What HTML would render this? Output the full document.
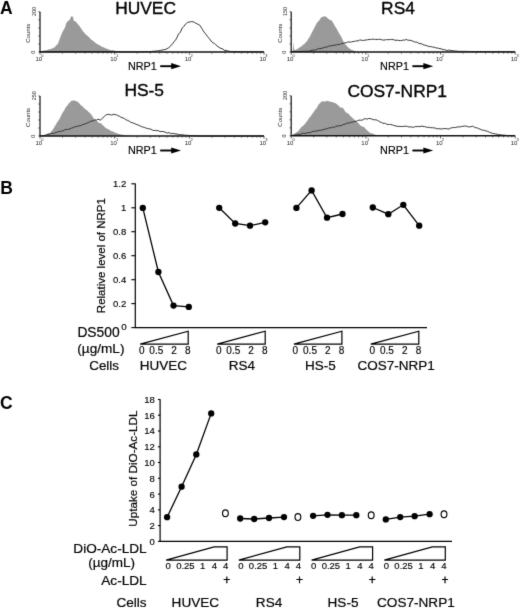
<!DOCTYPE html>
<html><head><meta charset="utf-8"><style>
html,body{margin:0;padding:0;background:#fff;width:520px;height:609px;overflow:hidden}
svg{display:block}
text{font-family:"Liberation Sans", sans-serif}
</style></head><body>
<svg width="520" height="609" viewBox="0 0 520 609">
<defs><filter id="bl" color-interpolation-filters="sRGB" x="0" y="0" width="100%" height="100%"><feConvolveMatrix order="3" kernelMatrix="0.0100 0.0800 0.0100 0.0800 0.6400 0.0800 0.0100 0.0800 0.0100" edgeMode="duplicate"/></filter></defs>
<g filter="url(#bl)">
<rect width="520" height="609" fill="#fff"/>
<polygon points="40.0,52.0 41.1,51.3 42.1,51.0 43.1,50.7 44.2,50.3 45.2,50.5 46.2,50.2 47.2,50.1 48.2,49.5 49.3,49.2 50.3,49.2 51.3,48.7 52.4,48.4 53.4,47.7 54.4,47.4 55.5,46.3 56.5,45.1 57.5,44.4 58.5,42.3 59.6,39.2 60.9,35.8 62.2,32.5 63.6,30.0 65.0,27.4 66.2,23.3 67.7,21.3 69.6,20.1 70.8,17.2 71.9,15.9 73.1,17.3 73.8,20.8 74.8,21.2 75.8,21.6 77.7,24.1 79.6,26.2 81.5,29.1 82.7,30.9 83.8,32.2 85.0,33.4 86.2,34.9 87.3,35.4 88.5,36.8 89.8,37.9 91.0,39.5 92.3,40.3 93.6,41.2 94.9,42.4 96.1,43.2 97.2,43.9 98.3,44.7 99.5,45.0 100.7,45.9 101.8,46.8 103.0,47.1 104.2,47.8 105.3,48.0 106.5,48.7 107.7,48.9 108.8,49.5 110.0,49.9 111.1,50.2 112.2,50.0 113.4,50.4 114.4,50.4 115.5,50.9 116.5,51.1 117.6,51.3 118.7,51.5 119.8,51.6 120.9,51.8 122.0,52.0" fill="#9a9a9a"/>
<polyline points="40.0,51.8 41.3,51.8 42.6,51.8 43.9,51.8 45.3,51.8 46.6,51.8 47.9,51.8 49.2,51.8 50.5,51.8 51.8,51.8 53.2,51.8 54.5,51.8 55.8,51.8 57.1,51.8 58.4,51.8 59.7,51.8 61.1,51.8 62.4,51.8 63.7,51.8 65.0,51.8 66.3,51.8 67.6,51.8 68.9,51.8 70.3,51.8 71.6,51.8 72.9,51.8 74.2,51.8 75.5,51.8 76.8,51.8 78.2,51.8 79.5,51.8 80.8,51.8 82.1,51.8 83.4,51.8 84.7,51.8 86.1,51.8 87.4,51.8 88.7,51.8 90.0,51.8 91.3,51.8 92.6,51.8 93.9,51.8 95.3,51.8 96.6,51.8 97.9,51.8 99.2,51.8 100.5,51.8 101.8,51.8 103.2,51.8 104.5,51.8 105.8,51.8 107.1,51.8 108.4,51.8 109.7,51.8 111.1,51.8 112.4,51.8 113.7,51.8 115.0,51.8 116.3,51.8 117.6,51.8 118.9,51.8 120.3,51.8 121.6,51.8 122.9,51.8 124.2,51.8 125.5,51.8 126.8,51.8 128.2,51.8 129.5,51.8 130.8,51.8 132.1,51.8 133.4,51.8 134.7,51.8 136.1,51.8 137.4,51.8 138.7,51.8 140.0,51.8 141.4,51.8 142.9,51.7 144.3,51.7 145.8,51.6 147.2,51.6 148.6,51.6 150.1,51.5 151.5,51.5 153.0,51.3 154.6,51.2 156.1,51.0 157.7,50.9 159.2,50.6 160.6,50.4 162.1,50.1 163.6,49.7 165.0,49.6 166.9,48.8 168.8,47.6 170.8,45.8 172.7,43.7 174.1,41.6 175.6,40.0 177.1,37.3 178.5,34.1 180.4,32.1 182.3,27.8 183.8,26.6 185.2,24.4 186.6,23.5 188.0,22.1 189.8,22.0 191.5,21.6 192.9,21.7 194.4,22.4 195.8,23.2 197.7,24.2 199.6,25.1 201.1,27.2 202.5,29.6 203.9,31.9 205.4,33.6 207.3,36.3 209.2,38.4 211.1,41.1 213.0,42.8 214.3,43.5 215.7,44.6 217.0,45.8 218.9,47.3 220.8,48.4 222.7,48.9 224.6,50.4 226.1,50.4 227.5,50.9 228.9,51.2 230.4,51.5 231.8,51.5 233.1,51.6 234.5,51.6 235.9,51.7 237.3,51.7 238.6,51.8 240.0,51.8 241.3,51.8 242.7,51.8 244.0,51.8 245.3,51.8 246.7,51.8 248.0,51.8 249.3,51.8 250.7,51.8 252.0,51.8 253.3,51.8 254.7,51.8 256.0,51.8 257.3,51.8 258.7,51.8 260.0,51.8 261.3,51.8 262.7,51.8 264.0,51.8" fill="none" stroke="#333" stroke-width="1.0" stroke-linejoin="round"/>
<line x1="40" y1="11.8" x2="40" y2="52" stroke="#222" stroke-width="1.3"/>
<line x1="39.4" y1="52" x2="264.01" y2="52" stroke="#111" stroke-width="1.6"/>
<line x1="38.4" y1="11.8" x2="40" y2="11.8" stroke="#333" stroke-width="0.8"/>
<line x1="38.4" y1="19.8" x2="40" y2="19.8" stroke="#333" stroke-width="0.8"/>
<line x1="38.4" y1="27.9" x2="40" y2="27.9" stroke="#333" stroke-width="0.8"/>
<line x1="38.4" y1="35.9" x2="40" y2="35.9" stroke="#333" stroke-width="0.8"/>
<line x1="38.4" y1="44.0" x2="40" y2="44.0" stroke="#333" stroke-width="0.8"/>
<line x1="38.4" y1="52.0" x2="40" y2="52.0" stroke="#333" stroke-width="0.8"/>
<line x1="62.5" y1="52" x2="62.5" y2="53.6" stroke="#333" stroke-width="0.8"/>
<line x1="75.6" y1="52" x2="75.6" y2="53.6" stroke="#333" stroke-width="0.8"/>
<line x1="85.0" y1="52" x2="85.0" y2="53.6" stroke="#333" stroke-width="0.8"/>
<line x1="92.2" y1="52" x2="92.2" y2="53.6" stroke="#333" stroke-width="0.8"/>
<line x1="98.1" y1="52" x2="98.1" y2="53.6" stroke="#333" stroke-width="0.8"/>
<line x1="103.1" y1="52" x2="103.1" y2="53.6" stroke="#333" stroke-width="0.8"/>
<line x1="107.4" y1="52" x2="107.4" y2="53.6" stroke="#333" stroke-width="0.8"/>
<line x1="111.3" y1="52" x2="111.3" y2="53.6" stroke="#333" stroke-width="0.8"/>
<line x1="137.1" y1="52" x2="137.1" y2="53.6" stroke="#333" stroke-width="0.8"/>
<line x1="150.3" y1="52" x2="150.3" y2="53.6" stroke="#333" stroke-width="0.8"/>
<line x1="159.6" y1="52" x2="159.6" y2="53.6" stroke="#333" stroke-width="0.8"/>
<line x1="166.9" y1="52" x2="166.9" y2="53.6" stroke="#333" stroke-width="0.8"/>
<line x1="172.8" y1="52" x2="172.8" y2="53.6" stroke="#333" stroke-width="0.8"/>
<line x1="177.8" y1="52" x2="177.8" y2="53.6" stroke="#333" stroke-width="0.8"/>
<line x1="182.1" y1="52" x2="182.1" y2="53.6" stroke="#333" stroke-width="0.8"/>
<line x1="185.9" y1="52" x2="185.9" y2="53.6" stroke="#333" stroke-width="0.8"/>
<line x1="211.8" y1="52" x2="211.8" y2="53.6" stroke="#333" stroke-width="0.8"/>
<line x1="225.0" y1="52" x2="225.0" y2="53.6" stroke="#333" stroke-width="0.8"/>
<line x1="234.3" y1="52" x2="234.3" y2="53.6" stroke="#333" stroke-width="0.8"/>
<line x1="241.5" y1="52" x2="241.5" y2="53.6" stroke="#333" stroke-width="0.8"/>
<line x1="247.4" y1="52" x2="247.4" y2="53.6" stroke="#333" stroke-width="0.8"/>
<line x1="252.4" y1="52" x2="252.4" y2="53.6" stroke="#333" stroke-width="0.8"/>
<line x1="256.8" y1="52" x2="256.8" y2="53.6" stroke="#333" stroke-width="0.8"/>
<line x1="260.6" y1="52" x2="260.6" y2="53.6" stroke="#333" stroke-width="0.8"/>
<line x1="40.0" y1="52" x2="40.0" y2="54.6" stroke="#333" stroke-width="0.8"/>
<text x="38.8" y="61.3" font-size="6" text-anchor="middle" fill="#222">10</text>
<text x="42.3" y="57.3" font-size="4" text-anchor="middle" fill="#222">0</text>
<line x1="114.7" y1="52" x2="114.7" y2="54.6" stroke="#333" stroke-width="0.8"/>
<text x="113.5" y="61.3" font-size="6" text-anchor="middle" fill="#222">10</text>
<text x="117.0" y="57.3" font-size="4" text-anchor="middle" fill="#222">1</text>
<line x1="189.3" y1="52" x2="189.3" y2="54.6" stroke="#333" stroke-width="0.8"/>
<text x="188.1" y="61.3" font-size="6" text-anchor="middle" fill="#222">10</text>
<text x="191.6" y="57.3" font-size="4" text-anchor="middle" fill="#222">2</text>
<line x1="264.0" y1="52" x2="264.0" y2="54.6" stroke="#333" stroke-width="0.8"/>
<text x="262.8" y="61.3" font-size="6" text-anchor="middle" fill="#222">10</text>
<text x="266.3" y="57.3" font-size="4" text-anchor="middle" fill="#222">3</text>
<text transform="translate(30.4,33.3) rotate(-90)" font-size="6" text-anchor="middle" fill="#222">Counts</text>
<text transform="translate(36,11.600000000000001) rotate(-90)" font-size="5.4" text-anchor="middle" fill="#222">200</text>
<text transform="translate(34.8,52.3) rotate(-90)" font-size="5.4" text-anchor="middle" fill="#222">0</text>
<text x="145.6" y="13.9" font-size="17.4" text-anchor="middle" fill="#000" stroke="#000" stroke-width="0.35">HUVEC</text>
<text x="127.9" y="69.6" font-size="10.8" text-anchor="start" fill="#000" stroke="#000" stroke-width="0.15">NRP1</text>
<line x1="160.2" y1="66.2" x2="174.0" y2="66.2" stroke="#000" stroke-width="1.9"/>
<polygon points="171.2,63.1 181.0,66.2 171.2,69.3" fill="#000"/>
<polygon points="291.5,52.0 292.8,51.0 293.3,41.8 293.9,49.2 295.5,50.1 297.2,48.9 298.2,48.5 299.3,47.5 300.3,47.2 301.3,46.2 302.4,45.6 303.4,44.6 304.7,43.8 306.0,41.9 307.0,41.2 308.0,39.2 309.1,37.8 310.3,35.7 311.5,33.2 312.6,31.1 313.6,29.3 314.6,27.2 316.5,23.5 317.6,22.1 318.8,21.0 320.0,19.2 321.1,17.6 323.0,16.8 324.9,16.2 326.0,16.7 327.2,17.7 328.8,19.2 330.0,19.9 331.1,20.1 332.8,22.2 334.2,24.8 335.2,26.6 336.2,28.0 337.2,29.7 338.5,32.2 339.8,34.4 341.1,36.4 342.1,38.4 343.2,40.9 344.2,42.4 345.2,44.2 346.2,45.2 348.0,47.2 349.1,48.2 350.3,49.0 351.5,49.9 352.6,50.3 353.6,50.6 354.7,51.0 355.7,51.4 357.1,51.7 358.5,52.0" fill="#9a9a9a"/>
<polyline points="291.5,51.7 292.9,51.7 294.2,51.6 295.6,51.6 296.9,51.5 298.3,51.5 299.7,51.5 301.0,51.4 302.4,51.4 303.8,51.4 305.1,51.3 306.5,51.3 307.8,51.2 309.2,51.2 310.8,50.8 312.3,50.1 313.8,50.2 315.4,50.0 316.9,49.3 318.5,48.6 320.0,48.7 321.6,48.3 323.1,47.9 324.5,47.4 325.9,47.0 327.2,47.1 328.6,46.3 330.0,45.8 331.3,45.7 332.6,45.6 333.9,45.2 335.2,45.2 336.5,44.9 337.9,44.5 339.3,44.5 340.7,44.1 342.1,43.3 343.5,43.5 344.8,42.8 346.2,42.8 347.5,42.1 348.9,41.9 350.2,42.2 351.5,41.9 352.9,41.6 354.2,41.3 355.6,41.3 356.9,40.6 358.2,41.0 359.6,40.1 360.9,40.0 362.3,40.5 363.6,40.3 365.0,40.2 366.3,39.9 367.7,39.8 369.0,39.5 370.4,39.4 371.7,39.4 373.1,39.1 374.4,39.4 375.8,39.4 377.1,39.5 378.4,39.3 379.8,39.3 381.1,39.4 382.5,40.2 383.8,39.9 385.2,40.0 386.5,39.5 387.9,39.8 389.2,39.5 390.6,39.6 391.9,39.3 393.3,39.8 394.6,39.9 396.0,40.5 397.3,40.1 398.8,40.5 400.3,40.6 401.8,40.5 403.2,40.0 404.7,40.2 406.2,39.4 407.7,40.1 409.2,40.3 410.8,40.4 412.3,40.9 413.8,41.7 415.3,42.1 416.9,42.0 418.4,43.2 420.0,43.7 421.5,43.7 423.0,44.7 424.6,45.1 426.1,45.5 427.7,46.0 429.2,46.6 430.7,46.5 432.3,47.1 433.8,47.1 435.4,47.8 436.9,47.9 438.4,48.3 440.0,48.6 441.5,48.9 443.1,49.8 444.6,49.5 446.1,50.4 447.7,50.4 449.2,50.0 450.8,50.6 452.3,50.5 453.8,50.9 455.4,51.0 456.9,51.2 458.5,51.3 460.0,51.4 461.3,51.4 462.6,51.4 463.9,51.4 465.2,51.4 466.5,51.4 467.9,51.4 469.2,51.5 470.5,51.5 471.8,51.5 473.1,51.5 474.4,51.5 475.7,51.5 477.0,51.5 478.3,51.5 479.6,51.5 481.0,51.5 482.3,51.5 483.6,51.5 484.9,51.5 486.2,51.5 487.5,51.5 488.8,51.6 490.1,51.6 491.4,51.6 492.7,51.6 494.0,51.6 495.4,51.6 496.7,51.6 498.0,51.6 499.3,51.6 500.6,51.6 501.9,51.6 503.2,51.6 504.5,51.6 505.8,51.7 507.1,51.7 508.5,51.7 509.8,51.7 511.1,51.7 512.4,51.7 513.7,51.7 515.0,51.7" fill="none" stroke="#333" stroke-width="1.0" stroke-linejoin="round"/>
<line x1="291.2" y1="11.8" x2="291.2" y2="52" stroke="#222" stroke-width="1.3"/>
<line x1="290.59999999999997" y1="52" x2="515.21" y2="52" stroke="#111" stroke-width="1.6"/>
<line x1="289.59999999999997" y1="11.8" x2="291.2" y2="11.8" stroke="#333" stroke-width="0.8"/>
<line x1="289.59999999999997" y1="19.8" x2="291.2" y2="19.8" stroke="#333" stroke-width="0.8"/>
<line x1="289.59999999999997" y1="27.9" x2="291.2" y2="27.9" stroke="#333" stroke-width="0.8"/>
<line x1="289.59999999999997" y1="35.9" x2="291.2" y2="35.9" stroke="#333" stroke-width="0.8"/>
<line x1="289.59999999999997" y1="44.0" x2="291.2" y2="44.0" stroke="#333" stroke-width="0.8"/>
<line x1="289.59999999999997" y1="52.0" x2="291.2" y2="52.0" stroke="#333" stroke-width="0.8"/>
<line x1="313.7" y1="52" x2="313.7" y2="53.6" stroke="#333" stroke-width="0.8"/>
<line x1="326.8" y1="52" x2="326.8" y2="53.6" stroke="#333" stroke-width="0.8"/>
<line x1="336.2" y1="52" x2="336.2" y2="53.6" stroke="#333" stroke-width="0.8"/>
<line x1="343.4" y1="52" x2="343.4" y2="53.6" stroke="#333" stroke-width="0.8"/>
<line x1="349.3" y1="52" x2="349.3" y2="53.6" stroke="#333" stroke-width="0.8"/>
<line x1="354.3" y1="52" x2="354.3" y2="53.6" stroke="#333" stroke-width="0.8"/>
<line x1="358.6" y1="52" x2="358.6" y2="53.6" stroke="#333" stroke-width="0.8"/>
<line x1="362.5" y1="52" x2="362.5" y2="53.6" stroke="#333" stroke-width="0.8"/>
<line x1="388.3" y1="52" x2="388.3" y2="53.6" stroke="#333" stroke-width="0.8"/>
<line x1="401.5" y1="52" x2="401.5" y2="53.6" stroke="#333" stroke-width="0.8"/>
<line x1="410.8" y1="52" x2="410.8" y2="53.6" stroke="#333" stroke-width="0.8"/>
<line x1="418.1" y1="52" x2="418.1" y2="53.6" stroke="#333" stroke-width="0.8"/>
<line x1="424.0" y1="52" x2="424.0" y2="53.6" stroke="#333" stroke-width="0.8"/>
<line x1="429.0" y1="52" x2="429.0" y2="53.6" stroke="#333" stroke-width="0.8"/>
<line x1="433.3" y1="52" x2="433.3" y2="53.6" stroke="#333" stroke-width="0.8"/>
<line x1="437.1" y1="52" x2="437.1" y2="53.6" stroke="#333" stroke-width="0.8"/>
<line x1="463.0" y1="52" x2="463.0" y2="53.6" stroke="#333" stroke-width="0.8"/>
<line x1="476.2" y1="52" x2="476.2" y2="53.6" stroke="#333" stroke-width="0.8"/>
<line x1="485.5" y1="52" x2="485.5" y2="53.6" stroke="#333" stroke-width="0.8"/>
<line x1="492.7" y1="52" x2="492.7" y2="53.6" stroke="#333" stroke-width="0.8"/>
<line x1="498.6" y1="52" x2="498.6" y2="53.6" stroke="#333" stroke-width="0.8"/>
<line x1="503.6" y1="52" x2="503.6" y2="53.6" stroke="#333" stroke-width="0.8"/>
<line x1="508.0" y1="52" x2="508.0" y2="53.6" stroke="#333" stroke-width="0.8"/>
<line x1="511.8" y1="52" x2="511.8" y2="53.6" stroke="#333" stroke-width="0.8"/>
<line x1="291.2" y1="52" x2="291.2" y2="54.6" stroke="#333" stroke-width="0.8"/>
<text x="290.0" y="61.3" font-size="6" text-anchor="middle" fill="#222">10</text>
<text x="293.5" y="57.3" font-size="4" text-anchor="middle" fill="#222">0</text>
<line x1="365.9" y1="52" x2="365.9" y2="54.6" stroke="#333" stroke-width="0.8"/>
<text x="364.7" y="61.3" font-size="6" text-anchor="middle" fill="#222">10</text>
<text x="368.2" y="57.3" font-size="4" text-anchor="middle" fill="#222">1</text>
<line x1="440.5" y1="52" x2="440.5" y2="54.6" stroke="#333" stroke-width="0.8"/>
<text x="439.3" y="61.3" font-size="6" text-anchor="middle" fill="#222">10</text>
<text x="442.8" y="57.3" font-size="4" text-anchor="middle" fill="#222">2</text>
<line x1="515.2" y1="52" x2="515.2" y2="54.6" stroke="#333" stroke-width="0.8"/>
<text x="514.0" y="61.3" font-size="6" text-anchor="middle" fill="#222">10</text>
<text x="517.5" y="57.3" font-size="4" text-anchor="middle" fill="#222">3</text>
<text transform="translate(281.59999999999997,33.3) rotate(-90)" font-size="6" text-anchor="middle" fill="#222">Counts</text>
<text transform="translate(287.2,11.600000000000001) rotate(-90)" font-size="5.4" text-anchor="middle" fill="#222">150</text>
<text transform="translate(286.0,52.3) rotate(-90)" font-size="5.4" text-anchor="middle" fill="#222">0</text>
<text x="398" y="14.0" font-size="17.4" text-anchor="middle" fill="#000" stroke="#000" stroke-width="0.35">RS4</text>
<text x="380.1" y="69.6" font-size="10.8" text-anchor="start" fill="#000" stroke="#000" stroke-width="0.15">NRP1</text>
<line x1="412.4" y1="66.2" x2="426.2" y2="66.2" stroke="#000" stroke-width="1.9"/>
<polygon points="423.4,63.1 433.2,66.2 423.4,69.3" fill="#000"/>
<polygon points="40.0,136.0 41.1,135.8 42.2,135.5 43.4,135.3 44.5,135.0 45.9,134.5 47.2,134.0 48.2,133.5 49.3,132.9 50.3,133.0 51.3,131.3 52.4,130.2 53.4,128.8 54.4,127.0 55.5,125.2 56.5,123.4 57.5,121.7 58.5,120.5 59.5,118.9 60.5,117.0 61.6,114.5 62.6,112.8 63.6,111.3 64.7,109.4 65.7,107.3 66.7,106.3 67.8,104.9 68.8,103.2 69.9,102.6 71.1,100.9 72.1,100.8 73.2,100.5 74.2,100.4 76.0,100.9 77.0,101.8 78.0,101.8 79.0,103.3 80.1,104.3 81.1,105.4 82.1,105.9 83.2,107.0 84.2,108.3 85.2,109.0 86.2,110.0 87.2,110.2 88.2,111.8 89.3,112.5 90.3,113.4 91.4,114.7 92.6,116.5 93.8,118.5 94.9,119.5 95.9,120.6 97.0,120.9 98.0,122.3 99.0,122.8 100.1,123.2 101.1,123.3 102.1,124.4 103.2,125.5 104.2,126.6 105.2,127.4 106.2,128.2 107.2,128.8 108.3,129.2 109.5,130.0 110.7,130.5 111.8,131.5 112.9,131.3 113.9,132.1 115.0,132.8 116.0,133.0 117.0,133.2 118.0,133.8 119.1,134.0 120.2,134.1 121.3,134.8 122.4,134.4 123.5,135.0 124.6,135.1 125.8,135.3 126.9,135.4 128.1,135.6 129.2,135.7 130.4,135.8 131.5,135.8 132.7,135.9 133.8,135.9 135.0,136.0" fill="#9a9a9a"/>
<polyline points="40.0,136.0 41.3,135.9 42.6,135.8 44.0,135.5 45.3,135.2 46.6,134.8 48.0,134.1 49.4,134.4 50.7,133.6 52.0,133.2 53.4,133.6 54.8,132.9 56.2,132.5 57.6,132.1 59.0,131.3 60.4,131.7 61.8,130.7 63.2,130.9 64.6,129.9 66.0,129.5 67.4,129.6 68.8,129.0 70.2,128.9 71.6,128.0 73.0,127.9 74.4,126.8 75.8,126.8 77.2,126.2 78.6,126.1 80.0,125.5 81.4,125.4 82.8,124.5 84.2,124.3 85.7,123.5 87.2,123.1 88.8,122.4 90.3,121.4 91.8,121.0 93.3,120.7 94.9,119.9 96.5,120.2 98.0,119.1 100.3,120.1 102.6,118.2 104.2,116.5 105.7,115.0 107.2,114.5 108.8,114.3 110.3,114.7 111.8,115.1 113.8,114.2 115.1,114.6 116.4,115.0 117.7,115.4 119.2,116.2 120.6,117.0 122.0,117.7 123.5,118.2 124.9,118.8 126.3,120.1 127.8,120.3 129.2,121.2 130.7,122.2 132.3,122.8 133.8,123.2 135.4,124.0 136.9,124.6 138.4,125.1 140.0,125.9 141.5,126.6 143.1,127.1 144.6,127.5 146.1,128.1 147.7,128.6 149.2,128.8 150.8,129.2 152.3,130.1 153.8,130.5 155.4,130.4 156.9,130.7 158.5,130.7 160.0,131.6 161.5,131.5 163.1,131.5 164.6,132.0 166.2,132.5 167.7,133.1 169.2,132.5 170.8,133.6 172.3,133.4 173.9,133.6 175.4,133.9 176.9,134.0 178.4,134.4 180.0,134.9 181.5,134.6 183.0,135.0 184.3,135.1 185.6,135.2 186.9,135.3 188.2,135.4 189.5,135.5 190.8,135.6 192.1,135.7 193.4,135.7 194.7,135.8 196.1,135.8 197.4,135.9 198.7,135.9 200.0,136.0 201.3,136.0 202.6,136.0 203.9,136.0 205.2,136.0 206.5,136.0 207.8,136.0 209.1,136.0 210.4,136.0 211.8,136.0 213.1,136.0 214.4,136.0 215.7,136.0 217.0,136.0 218.3,136.0 219.6,136.0 220.9,136.0 222.2,136.0 223.5,136.0 224.8,136.0 226.1,136.0 227.4,136.0 228.7,136.0 230.0,136.0 231.3,136.0 232.7,136.0 234.0,136.0 235.3,136.0 236.6,136.0 237.9,136.0 239.2,136.0 240.5,136.0 241.8,136.0 243.1,136.0 244.4,136.0 245.7,136.0 247.0,136.0 248.3,136.0 249.6,136.0 250.9,136.0 252.2,136.0 253.6,136.0 254.9,136.0 256.2,136.0 257.5,136.0 258.8,136.0 260.1,136.0 261.4,136.0 262.7,136.0 264.0,136.0" fill="none" stroke="#333" stroke-width="1.0" stroke-linejoin="round"/>
<line x1="40" y1="96" x2="40" y2="136" stroke="#222" stroke-width="1.3"/>
<line x1="39.4" y1="136" x2="264.01" y2="136" stroke="#111" stroke-width="1.6"/>
<line x1="38.4" y1="96.0" x2="40" y2="96.0" stroke="#333" stroke-width="0.8"/>
<line x1="38.4" y1="104.0" x2="40" y2="104.0" stroke="#333" stroke-width="0.8"/>
<line x1="38.4" y1="112.0" x2="40" y2="112.0" stroke="#333" stroke-width="0.8"/>
<line x1="38.4" y1="120.0" x2="40" y2="120.0" stroke="#333" stroke-width="0.8"/>
<line x1="38.4" y1="128.0" x2="40" y2="128.0" stroke="#333" stroke-width="0.8"/>
<line x1="38.4" y1="136.0" x2="40" y2="136.0" stroke="#333" stroke-width="0.8"/>
<line x1="62.5" y1="136" x2="62.5" y2="137.6" stroke="#333" stroke-width="0.8"/>
<line x1="75.6" y1="136" x2="75.6" y2="137.6" stroke="#333" stroke-width="0.8"/>
<line x1="85.0" y1="136" x2="85.0" y2="137.6" stroke="#333" stroke-width="0.8"/>
<line x1="92.2" y1="136" x2="92.2" y2="137.6" stroke="#333" stroke-width="0.8"/>
<line x1="98.1" y1="136" x2="98.1" y2="137.6" stroke="#333" stroke-width="0.8"/>
<line x1="103.1" y1="136" x2="103.1" y2="137.6" stroke="#333" stroke-width="0.8"/>
<line x1="107.4" y1="136" x2="107.4" y2="137.6" stroke="#333" stroke-width="0.8"/>
<line x1="111.3" y1="136" x2="111.3" y2="137.6" stroke="#333" stroke-width="0.8"/>
<line x1="137.1" y1="136" x2="137.1" y2="137.6" stroke="#333" stroke-width="0.8"/>
<line x1="150.3" y1="136" x2="150.3" y2="137.6" stroke="#333" stroke-width="0.8"/>
<line x1="159.6" y1="136" x2="159.6" y2="137.6" stroke="#333" stroke-width="0.8"/>
<line x1="166.9" y1="136" x2="166.9" y2="137.6" stroke="#333" stroke-width="0.8"/>
<line x1="172.8" y1="136" x2="172.8" y2="137.6" stroke="#333" stroke-width="0.8"/>
<line x1="177.8" y1="136" x2="177.8" y2="137.6" stroke="#333" stroke-width="0.8"/>
<line x1="182.1" y1="136" x2="182.1" y2="137.6" stroke="#333" stroke-width="0.8"/>
<line x1="185.9" y1="136" x2="185.9" y2="137.6" stroke="#333" stroke-width="0.8"/>
<line x1="211.8" y1="136" x2="211.8" y2="137.6" stroke="#333" stroke-width="0.8"/>
<line x1="225.0" y1="136" x2="225.0" y2="137.6" stroke="#333" stroke-width="0.8"/>
<line x1="234.3" y1="136" x2="234.3" y2="137.6" stroke="#333" stroke-width="0.8"/>
<line x1="241.5" y1="136" x2="241.5" y2="137.6" stroke="#333" stroke-width="0.8"/>
<line x1="247.4" y1="136" x2="247.4" y2="137.6" stroke="#333" stroke-width="0.8"/>
<line x1="252.4" y1="136" x2="252.4" y2="137.6" stroke="#333" stroke-width="0.8"/>
<line x1="256.8" y1="136" x2="256.8" y2="137.6" stroke="#333" stroke-width="0.8"/>
<line x1="260.6" y1="136" x2="260.6" y2="137.6" stroke="#333" stroke-width="0.8"/>
<line x1="40.0" y1="136" x2="40.0" y2="138.6" stroke="#333" stroke-width="0.8"/>
<text x="38.8" y="145.3" font-size="6" text-anchor="middle" fill="#222">10</text>
<text x="42.3" y="141.3" font-size="4" text-anchor="middle" fill="#222">0</text>
<line x1="114.7" y1="136" x2="114.7" y2="138.6" stroke="#333" stroke-width="0.8"/>
<text x="113.5" y="145.3" font-size="6" text-anchor="middle" fill="#222">10</text>
<text x="117.0" y="141.3" font-size="4" text-anchor="middle" fill="#222">1</text>
<line x1="189.3" y1="136" x2="189.3" y2="138.6" stroke="#333" stroke-width="0.8"/>
<text x="188.1" y="145.3" font-size="6" text-anchor="middle" fill="#222">10</text>
<text x="191.6" y="141.3" font-size="4" text-anchor="middle" fill="#222">2</text>
<line x1="264.0" y1="136" x2="264.0" y2="138.6" stroke="#333" stroke-width="0.8"/>
<text x="262.8" y="145.3" font-size="6" text-anchor="middle" fill="#222">10</text>
<text x="266.3" y="141.3" font-size="4" text-anchor="middle" fill="#222">3</text>
<text transform="translate(30.4,117.4) rotate(-90)" font-size="6" text-anchor="middle" fill="#222">Counts</text>
<text transform="translate(36,95.8) rotate(-90)" font-size="5.4" text-anchor="middle" fill="#222">250</text>
<text transform="translate(34.8,136.3) rotate(-90)" font-size="5.4" text-anchor="middle" fill="#222">0</text>
<text x="144.2" y="96.3" font-size="17.4" text-anchor="middle" fill="#000" stroke="#000" stroke-width="0.35">HS-5</text>
<text x="127.9" y="153.9" font-size="10.8" text-anchor="start" fill="#000" stroke="#000" stroke-width="0.15">NRP1</text>
<line x1="160.2" y1="150.5" x2="174.0" y2="150.5" stroke="#000" stroke-width="1.9"/>
<polygon points="171.2,147.4 181.0,150.5 171.2,153.6" fill="#000"/>
<polygon points="292.0,136.0 292.6,135.0 293.8,134.0 294.9,133.5 296.1,132.5 297.2,132.0 298.4,130.9 299.5,129.6 300.6,128.0 301.8,126.8 302.8,126.0 303.9,124.9 304.9,124.0 305.9,122.6 307.0,121.3 308.0,119.8 309.1,117.9 310.3,116.8 311.5,115.1 312.6,113.5 313.9,111.7 315.2,109.7 316.5,108.3 317.6,106.6 318.8,104.0 319.8,103.4 320.8,102.2 321.8,101.4 322.8,101.3 323.9,101.6 324.9,101.5 325.9,101.2 327.0,100.9 328.0,100.8 329.0,101.5 330.1,101.5 331.1,102.0 332.1,102.1 333.2,102.3 334.2,103.0 335.2,103.0 336.2,103.8 337.2,104.4 338.2,105.2 339.3,106.6 340.3,107.6 341.3,107.8 342.4,107.6 343.4,108.4 344.5,110.3 345.7,112.3 346.7,112.7 347.8,113.4 348.8,114.1 350.0,115.6 351.1,116.8 352.1,117.4 353.2,118.7 354.2,119.6 355.2,120.2 356.2,121.5 357.2,122.0 358.2,123.0 359.3,124.3 360.3,125.4 361.5,125.9 362.6,126.7 363.8,126.8 365.1,128.6 366.4,129.6 367.7,130.9 369.0,131.9 370.2,133.0 371.5,133.3 372.8,133.7 374.1,134.2 375.4,134.8 376.5,135.1 377.7,135.4 378.9,135.7 380.0,136.0" fill="#9a9a9a"/>
<polyline points="292.0,135.5 293.4,135.2 294.9,135.0 296.3,134.8 297.7,134.2 299.1,134.5 300.5,134.3 302.0,133.3 303.4,133.3 304.8,133.4 306.2,133.3 307.6,132.7 309.0,132.6 310.4,132.6 311.8,131.8 313.2,131.4 314.6,131.3 316.0,130.9 317.4,131.0 318.8,130.3 320.2,130.3 321.6,130.2 323.0,129.6 324.4,129.4 325.8,128.9 327.2,128.7 328.6,128.0 330.0,127.9 331.4,127.7 332.8,127.0 334.2,127.5 335.6,126.4 337.0,126.0 338.4,126.0 339.8,125.7 341.2,125.6 342.5,125.0 343.9,124.3 345.3,124.2 346.7,123.3 348.1,122.8 349.5,123.2 350.8,122.3 352.2,121.9 353.5,122.2 354.8,121.3 356.1,121.4 357.5,120.7 358.8,120.2 360.3,120.1 361.9,120.3 363.4,119.3 365.8,118.6 367.2,119.2 368.6,118.5 370.1,118.5 371.5,119.0 372.9,119.5 374.4,119.9 375.9,119.7 377.3,120.4 378.7,121.0 380.1,122.1 381.6,122.4 383.0,123.4 384.3,123.2 385.6,123.5 386.9,124.3 388.2,124.5 389.5,124.4 390.8,124.6 392.3,124.8 393.9,125.6 395.4,125.8 397.0,126.3 398.5,126.3 400.0,126.5 401.6,126.5 403.1,126.4 404.7,126.3 406.2,126.2 407.7,126.5 409.2,127.1 410.8,126.8 412.3,127.2 413.8,127.3 415.3,126.5 416.9,126.7 418.4,126.4 420.0,126.7 421.5,126.1 423.0,126.4 424.6,126.6 426.1,127.0 427.7,127.4 429.2,127.3 430.7,127.7 432.3,127.7 433.8,127.9 435.4,128.1 436.9,128.9 438.4,128.6 440.0,128.9 441.5,129.0 443.1,128.6 444.6,128.6 446.1,128.5 447.7,129.0 449.2,128.9 450.8,128.0 452.3,127.7 453.8,127.6 455.4,127.5 456.9,127.1 458.4,126.8 460.0,127.0 461.5,126.5 463.1,126.3 464.6,126.1 466.1,126.0 467.7,126.7 469.2,126.9 470.8,126.8 472.3,126.1 473.8,126.8 475.4,127.7 476.9,127.7 478.4,128.5 480.0,129.1 481.5,129.8 483.1,130.2 484.6,130.5 486.2,131.0 487.7,131.3 489.3,132.3 490.8,132.7 492.3,133.4 493.9,133.5 495.4,134.0 496.9,134.1 498.4,134.7 500.0,134.7 501.5,135.0 503.1,135.1 504.6,135.2 506.1,135.4 507.7,135.5 509.2,135.6 510.6,135.6 512.1,135.7 513.5,135.7 515.0,135.8" fill="none" stroke="#333" stroke-width="1.0" stroke-linejoin="round"/>
<line x1="291.2" y1="95.8" x2="291.2" y2="135.8" stroke="#222" stroke-width="1.3"/>
<line x1="290.59999999999997" y1="135.8" x2="515.21" y2="135.8" stroke="#111" stroke-width="1.6"/>
<line x1="289.59999999999997" y1="95.8" x2="291.2" y2="95.8" stroke="#333" stroke-width="0.8"/>
<line x1="289.59999999999997" y1="103.8" x2="291.2" y2="103.8" stroke="#333" stroke-width="0.8"/>
<line x1="289.59999999999997" y1="111.8" x2="291.2" y2="111.8" stroke="#333" stroke-width="0.8"/>
<line x1="289.59999999999997" y1="119.8" x2="291.2" y2="119.8" stroke="#333" stroke-width="0.8"/>
<line x1="289.59999999999997" y1="127.8" x2="291.2" y2="127.8" stroke="#333" stroke-width="0.8"/>
<line x1="289.59999999999997" y1="135.8" x2="291.2" y2="135.8" stroke="#333" stroke-width="0.8"/>
<line x1="313.7" y1="135.8" x2="313.7" y2="137.4" stroke="#333" stroke-width="0.8"/>
<line x1="326.8" y1="135.8" x2="326.8" y2="137.4" stroke="#333" stroke-width="0.8"/>
<line x1="336.2" y1="135.8" x2="336.2" y2="137.4" stroke="#333" stroke-width="0.8"/>
<line x1="343.4" y1="135.8" x2="343.4" y2="137.4" stroke="#333" stroke-width="0.8"/>
<line x1="349.3" y1="135.8" x2="349.3" y2="137.4" stroke="#333" stroke-width="0.8"/>
<line x1="354.3" y1="135.8" x2="354.3" y2="137.4" stroke="#333" stroke-width="0.8"/>
<line x1="358.6" y1="135.8" x2="358.6" y2="137.4" stroke="#333" stroke-width="0.8"/>
<line x1="362.5" y1="135.8" x2="362.5" y2="137.4" stroke="#333" stroke-width="0.8"/>
<line x1="388.3" y1="135.8" x2="388.3" y2="137.4" stroke="#333" stroke-width="0.8"/>
<line x1="401.5" y1="135.8" x2="401.5" y2="137.4" stroke="#333" stroke-width="0.8"/>
<line x1="410.8" y1="135.8" x2="410.8" y2="137.4" stroke="#333" stroke-width="0.8"/>
<line x1="418.1" y1="135.8" x2="418.1" y2="137.4" stroke="#333" stroke-width="0.8"/>
<line x1="424.0" y1="135.8" x2="424.0" y2="137.4" stroke="#333" stroke-width="0.8"/>
<line x1="429.0" y1="135.8" x2="429.0" y2="137.4" stroke="#333" stroke-width="0.8"/>
<line x1="433.3" y1="135.8" x2="433.3" y2="137.4" stroke="#333" stroke-width="0.8"/>
<line x1="437.1" y1="135.8" x2="437.1" y2="137.4" stroke="#333" stroke-width="0.8"/>
<line x1="463.0" y1="135.8" x2="463.0" y2="137.4" stroke="#333" stroke-width="0.8"/>
<line x1="476.2" y1="135.8" x2="476.2" y2="137.4" stroke="#333" stroke-width="0.8"/>
<line x1="485.5" y1="135.8" x2="485.5" y2="137.4" stroke="#333" stroke-width="0.8"/>
<line x1="492.7" y1="135.8" x2="492.7" y2="137.4" stroke="#333" stroke-width="0.8"/>
<line x1="498.6" y1="135.8" x2="498.6" y2="137.4" stroke="#333" stroke-width="0.8"/>
<line x1="503.6" y1="135.8" x2="503.6" y2="137.4" stroke="#333" stroke-width="0.8"/>
<line x1="508.0" y1="135.8" x2="508.0" y2="137.4" stroke="#333" stroke-width="0.8"/>
<line x1="511.8" y1="135.8" x2="511.8" y2="137.4" stroke="#333" stroke-width="0.8"/>
<line x1="291.2" y1="135.8" x2="291.2" y2="138.4" stroke="#333" stroke-width="0.8"/>
<text x="290.0" y="145.1" font-size="6" text-anchor="middle" fill="#222">10</text>
<text x="293.5" y="141.1" font-size="4" text-anchor="middle" fill="#222">0</text>
<line x1="365.9" y1="135.8" x2="365.9" y2="138.4" stroke="#333" stroke-width="0.8"/>
<text x="364.7" y="145.1" font-size="6" text-anchor="middle" fill="#222">10</text>
<text x="368.2" y="141.1" font-size="4" text-anchor="middle" fill="#222">1</text>
<line x1="440.5" y1="135.8" x2="440.5" y2="138.4" stroke="#333" stroke-width="0.8"/>
<text x="439.3" y="145.1" font-size="6" text-anchor="middle" fill="#222">10</text>
<text x="442.8" y="141.1" font-size="4" text-anchor="middle" fill="#222">2</text>
<line x1="515.2" y1="135.8" x2="515.2" y2="138.4" stroke="#333" stroke-width="0.8"/>
<text x="514.0" y="145.1" font-size="6" text-anchor="middle" fill="#222">10</text>
<text x="517.5" y="141.1" font-size="4" text-anchor="middle" fill="#222">3</text>
<text transform="translate(281.59999999999997,117.20000000000002) rotate(-90)" font-size="6" text-anchor="middle" fill="#222">Counts</text>
<text transform="translate(287.2,95.6) rotate(-90)" font-size="5.4" text-anchor="middle" fill="#222">200</text>
<text transform="translate(286.0,136.10000000000002) rotate(-90)" font-size="5.4" text-anchor="middle" fill="#222">0</text>
<text x="397.2" y="96.5" font-size="17.4" text-anchor="middle" fill="#000" stroke="#000" stroke-width="0.35">COS7-NRP1</text>
<text x="380.1" y="153.9" font-size="10.8" text-anchor="start" fill="#000" stroke="#000" stroke-width="0.15">NRP1</text>
<line x1="412.4" y1="150.5" x2="426.2" y2="150.5" stroke="#000" stroke-width="1.9"/>
<polygon points="423.4,147.4 433.2,150.5 423.4,153.6" fill="#000"/>
<text x="0" y="13.7" font-size="17.5" text-anchor="start" fill="#000" font-weight="bold">A</text>
<text x="0.2" y="194.3" font-size="17.5" text-anchor="start" fill="#000" font-weight="bold">B</text>
<text x="0.1" y="408.7" font-size="17.5" text-anchor="start" fill="#000" font-weight="bold">C</text>
<line x1="135.3" y1="183.4" x2="135.3" y2="327.6" stroke="#000" stroke-width="1.2"/>
<line x1="134.70000000000002" y1="327.6" x2="427" y2="327.6" stroke="#000" stroke-width="1.2"/>
<line x1="131.3" y1="327.6" x2="135.3" y2="327.6" stroke="#000" stroke-width="1.1"/>
<text x="126.6" y="330.2" font-size="9.8" text-anchor="end" fill="#000" stroke="#000" stroke-width="0.15">0</text>
<line x1="131.3" y1="303.6" x2="135.3" y2="303.6" stroke="#000" stroke-width="1.1"/>
<text x="126.3" y="306.9" font-size="9.5" text-anchor="end" fill="#000" stroke="#000" stroke-width="0.15">0.2</text>
<line x1="131.3" y1="279.7" x2="135.3" y2="279.7" stroke="#000" stroke-width="1.1"/>
<text x="126.3" y="283.0" font-size="9.5" text-anchor="end" fill="#000" stroke="#000" stroke-width="0.15">0.4</text>
<line x1="131.3" y1="255.7" x2="135.3" y2="255.7" stroke="#000" stroke-width="1.1"/>
<text x="126.3" y="259.0" font-size="9.5" text-anchor="end" fill="#000" stroke="#000" stroke-width="0.15">0.6</text>
<line x1="131.3" y1="231.7" x2="135.3" y2="231.7" stroke="#000" stroke-width="1.1"/>
<text x="126.3" y="235.0" font-size="9.5" text-anchor="end" fill="#000" stroke="#000" stroke-width="0.15">0.8</text>
<line x1="131.3" y1="207.8" x2="135.3" y2="207.8" stroke="#000" stroke-width="1.1"/>
<text x="126.3" y="211.1" font-size="9.5" text-anchor="end" fill="#000" stroke="#000" stroke-width="0.15">1</text>
<line x1="131.3" y1="183.8" x2="135.3" y2="183.8" stroke="#000" stroke-width="1.1"/>
<text x="126.3" y="187.1" font-size="9.5" text-anchor="end" fill="#000" stroke="#000" stroke-width="0.15">1.2</text>
<text transform="translate(105.4,255.6) rotate(-90)" font-size="11.5" text-anchor="middle" fill="#000" stroke="#000" stroke-width="0.2">Relative level of NRP1</text>
<polyline points="142.8,207.9 158.4,272.0 173.5,305.6 188.8,306.9" fill="none" stroke="#000" stroke-width="1.3"/>
<circle cx="142.8" cy="207.9" r="3.15" fill="#000"/>
<circle cx="158.4" cy="272" r="3.15" fill="#000"/>
<circle cx="173.5" cy="305.6" r="3.15" fill="#000"/>
<circle cx="188.8" cy="306.9" r="3.15" fill="#000"/>
<polyline points="219.2,207.8 235.2,223.5 250.0,225.7 265.2,222.3" fill="none" stroke="#000" stroke-width="1.3"/>
<circle cx="219.2" cy="207.8" r="3.15" fill="#000"/>
<circle cx="235.2" cy="223.5" r="3.15" fill="#000"/>
<circle cx="250" cy="225.7" r="3.15" fill="#000"/>
<circle cx="265.2" cy="222.3" r="3.15" fill="#000"/>
<polyline points="296.4,207.9 311.6,190.4 327.0,217.7 342.5,214.0" fill="none" stroke="#000" stroke-width="1.3"/>
<circle cx="296.4" cy="207.9" r="3.15" fill="#000"/>
<circle cx="311.6" cy="190.4" r="3.15" fill="#000"/>
<circle cx="327" cy="217.7" r="3.15" fill="#000"/>
<circle cx="342.5" cy="214" r="3.15" fill="#000"/>
<polyline points="372.8,207.5 388.3,214.2 403.3,204.8 419.2,225.7" fill="none" stroke="#000" stroke-width="1.3"/>
<circle cx="372.8" cy="207.5" r="3.15" fill="#000"/>
<circle cx="388.3" cy="214.2" r="3.15" fill="#000"/>
<circle cx="403.3" cy="204.8" r="3.15" fill="#000"/>
<circle cx="419.2" cy="225.7" r="3.15" fill="#000"/>
<polygon points="140.2,344.1 188.2,331.2 188.2,344.1" fill="none" stroke="#000" stroke-width="1.2" stroke-linejoin="miter"/>
<text x="141.7" y="353.8" font-size="10" text-anchor="middle" fill="#000" stroke="#000" stroke-width="0.15">0</text>
<text x="156.3" y="353.8" font-size="10" text-anchor="middle" fill="#000" stroke="#000" stroke-width="0.15">0.5</text>
<text x="174.1" y="353.8" font-size="10" text-anchor="middle" fill="#000" stroke="#000" stroke-width="0.15">2</text>
<text x="187.9" y="353.8" font-size="10" text-anchor="middle" fill="#000" stroke="#000" stroke-width="0.15">8</text>
<text x="163.5" y="370.1" font-size="13.5" text-anchor="middle" fill="#000" stroke="#000" stroke-width="0.2">HUVEC</text>
<polygon points="217.2,344.1 265.2,331.2 265.2,344.1" fill="none" stroke="#000" stroke-width="1.2" stroke-linejoin="miter"/>
<text x="218.7" y="353.8" font-size="10" text-anchor="middle" fill="#000" stroke="#000" stroke-width="0.15">0</text>
<text x="233.3" y="353.8" font-size="10" text-anchor="middle" fill="#000" stroke="#000" stroke-width="0.15">0.5</text>
<text x="251.1" y="353.8" font-size="10" text-anchor="middle" fill="#000" stroke="#000" stroke-width="0.15">2</text>
<text x="264.9" y="353.8" font-size="10" text-anchor="middle" fill="#000" stroke="#000" stroke-width="0.15">8</text>
<text x="242" y="370.1" font-size="13.5" text-anchor="middle" fill="#000" stroke="#000" stroke-width="0.2">RS4</text>
<polygon points="293.9,344.1 341.9,331.2 341.9,344.1" fill="none" stroke="#000" stroke-width="1.2" stroke-linejoin="miter"/>
<text x="295.4" y="353.8" font-size="10" text-anchor="middle" fill="#000" stroke="#000" stroke-width="0.15">0</text>
<text x="310.0" y="353.8" font-size="10" text-anchor="middle" fill="#000" stroke="#000" stroke-width="0.15">0.5</text>
<text x="327.8" y="353.8" font-size="10" text-anchor="middle" fill="#000" stroke="#000" stroke-width="0.15">2</text>
<text x="341.6" y="353.8" font-size="10" text-anchor="middle" fill="#000" stroke="#000" stroke-width="0.15">8</text>
<text x="320.3" y="370.1" font-size="13.5" text-anchor="middle" fill="#000" stroke="#000" stroke-width="0.2">HS-5</text>
<polygon points="370.8,344.1 418.8,331.2 418.8,344.1" fill="none" stroke="#000" stroke-width="1.2" stroke-linejoin="miter"/>
<text x="372.3" y="353.8" font-size="10" text-anchor="middle" fill="#000" stroke="#000" stroke-width="0.15">0</text>
<text x="386.9" y="353.8" font-size="10" text-anchor="middle" fill="#000" stroke="#000" stroke-width="0.15">0.5</text>
<text x="404.7" y="353.8" font-size="10" text-anchor="middle" fill="#000" stroke="#000" stroke-width="0.15">2</text>
<text x="418.5" y="353.8" font-size="10" text-anchor="middle" fill="#000" stroke="#000" stroke-width="0.15">8</text>
<text x="396.2" y="370.1" font-size="13.5" text-anchor="middle" fill="#000" stroke="#000" stroke-width="0.2">COS7-NRP1</text>
<text x="119.6" y="337.0" font-size="13.8" text-anchor="end" fill="#000" stroke="#000" stroke-width="0.2">DS500</text>
<text x="77.3" y="352.6" font-size="13.6" text-anchor="start" fill="#000" stroke="#000" stroke-width="0.2">(µg/mL)</text>
<text x="119.0" y="370.1" font-size="13.4" text-anchor="end" fill="#000" stroke="#000" stroke-width="0.2">Cells</text>
<line x1="160.1" y1="399.2" x2="160.1" y2="541.4" stroke="#000" stroke-width="1.2"/>
<line x1="159.5" y1="541.4" x2="452" y2="541.4" stroke="#000" stroke-width="1.2"/>
<line x1="157.9" y1="541.4" x2="160.1" y2="541.4" stroke="#000" stroke-width="1.1"/>
<text x="154.9" y="544.8" font-size="9.5" text-anchor="end" fill="#000" stroke="#000" stroke-width="0.15">0</text>
<line x1="157.9" y1="525.6" x2="160.1" y2="525.6" stroke="#000" stroke-width="1.1"/>
<text x="154.9" y="529.0" font-size="9.5" text-anchor="end" fill="#000" stroke="#000" stroke-width="0.15">2</text>
<line x1="157.9" y1="509.9" x2="160.1" y2="509.9" stroke="#000" stroke-width="1.1"/>
<text x="154.9" y="513.3" font-size="9.5" text-anchor="end" fill="#000" stroke="#000" stroke-width="0.15">4</text>
<line x1="157.9" y1="494.1" x2="160.1" y2="494.1" stroke="#000" stroke-width="1.1"/>
<text x="154.9" y="497.5" font-size="9.5" text-anchor="end" fill="#000" stroke="#000" stroke-width="0.15">6</text>
<line x1="157.9" y1="478.3" x2="160.1" y2="478.3" stroke="#000" stroke-width="1.1"/>
<text x="154.9" y="481.7" font-size="9.5" text-anchor="end" fill="#000" stroke="#000" stroke-width="0.15">8</text>
<line x1="157.9" y1="462.5" x2="160.1" y2="462.5" stroke="#000" stroke-width="1.1"/>
<text x="154.9" y="465.9" font-size="9.5" text-anchor="end" fill="#000" stroke="#000" stroke-width="0.15">10</text>
<line x1="157.9" y1="446.8" x2="160.1" y2="446.8" stroke="#000" stroke-width="1.1"/>
<text x="154.9" y="450.2" font-size="9.5" text-anchor="end" fill="#000" stroke="#000" stroke-width="0.15">12</text>
<line x1="157.9" y1="431.0" x2="160.1" y2="431.0" stroke="#000" stroke-width="1.1"/>
<text x="154.9" y="434.4" font-size="9.5" text-anchor="end" fill="#000" stroke="#000" stroke-width="0.15">14</text>
<line x1="157.9" y1="415.2" x2="160.1" y2="415.2" stroke="#000" stroke-width="1.1"/>
<text x="154.9" y="418.6" font-size="9.5" text-anchor="end" fill="#000" stroke="#000" stroke-width="0.15">16</text>
<line x1="157.9" y1="399.5" x2="160.1" y2="399.5" stroke="#000" stroke-width="1.1"/>
<text x="154.9" y="402.9" font-size="9.5" text-anchor="end" fill="#000" stroke="#000" stroke-width="0.15">18</text>
<text transform="translate(136.5,468.6) rotate(-90)" font-size="11.7" text-anchor="middle" fill="#000" stroke="#000" stroke-width="0.2">Uptake of DiO-Ac-LDL</text>
<polyline points="167.1,517.2 181.6,486.7 196.3,454.4 211.2,413.4" fill="none" stroke="#000" stroke-width="1.3"/>
<circle cx="167.1" cy="517.2" r="3.15" fill="#000"/>
<circle cx="181.6" cy="486.7" r="3.15" fill="#000"/>
<circle cx="196.3" cy="454.4" r="3.15" fill="#000"/>
<circle cx="211.2" cy="413.4" r="3.15" fill="#000"/>
<polyline points="240.2,518.5 254.2,519.0 269.0,518.0 284.0,517.1" fill="none" stroke="#000" stroke-width="1.3"/>
<circle cx="240.2" cy="518.5" r="3.15" fill="#000"/>
<circle cx="254.2" cy="519" r="3.15" fill="#000"/>
<circle cx="269" cy="518" r="3.15" fill="#000"/>
<circle cx="284" cy="517.1" r="3.15" fill="#000"/>
<polyline points="313.1,515.8 327.5,514.8 341.9,515.2 356.3,515.2" fill="none" stroke="#000" stroke-width="1.3"/>
<circle cx="313.1" cy="515.8" r="3.15" fill="#000"/>
<circle cx="327.5" cy="514.8" r="3.15" fill="#000"/>
<circle cx="341.9" cy="515.2" r="3.15" fill="#000"/>
<circle cx="356.3" cy="515.2" r="3.15" fill="#000"/>
<polyline points="385.8,519.4 400.2,517.1 414.6,516.2 429.6,514.2" fill="none" stroke="#000" stroke-width="1.3"/>
<circle cx="385.8" cy="519.4" r="3.15" fill="#000"/>
<circle cx="400.2" cy="517.1" r="3.15" fill="#000"/>
<circle cx="414.6" cy="516.2" r="3.15" fill="#000"/>
<circle cx="429.6" cy="514.2" r="3.15" fill="#000"/>
<ellipse cx="225.4" cy="513.2" rx="2.9" ry="3.4" fill="#fff" stroke="#000" stroke-width="1.15"/>
<ellipse cx="297.9" cy="517.1" rx="2.9" ry="3.4" fill="#fff" stroke="#000" stroke-width="1.15"/>
<ellipse cx="371.2" cy="515.2" rx="2.9" ry="3.4" fill="#fff" stroke="#000" stroke-width="1.15"/>
<ellipse cx="444" cy="514.2" rx="2.9" ry="3.4" fill="#fff" stroke="#000" stroke-width="1.15"/>
<polygon points="166.1,560.2 214.1,546.9 227.1,546.9 227.1,560.2" fill="none" stroke="#000" stroke-width="1.2"/>
<text x="168.2" y="569.3" font-size="9.5" text-anchor="middle" fill="#000" stroke="#000" stroke-width="0.15">0</text>
<text x="185.4" y="569.3" font-size="9.5" text-anchor="middle" fill="#000" stroke="#000" stroke-width="0.15">0.25</text>
<text x="202.7" y="569.3" font-size="9.5" text-anchor="middle" fill="#000" stroke="#000" stroke-width="0.15">1</text>
<text x="214.4" y="569.3" font-size="9.5" text-anchor="middle" fill="#000" stroke="#000" stroke-width="0.15">4</text>
<text x="225.7" y="569.3" font-size="9.5" text-anchor="middle" fill="#000" stroke="#000" stroke-width="0.15">4</text>
<text x="226.7" y="584.2" font-size="12" text-anchor="middle" fill="#000" stroke="#000" stroke-width="0.3">+</text>
<text x="195.4" y="606.8" font-size="13.6" text-anchor="middle" fill="#000" stroke="#000" stroke-width="0.2">HUVEC</text>
<polygon points="238.8,560.2 286.8,546.9 299.8,546.9 299.8,560.2" fill="none" stroke="#000" stroke-width="1.2"/>
<text x="240.9" y="569.3" font-size="9.5" text-anchor="middle" fill="#000" stroke="#000" stroke-width="0.15">0</text>
<text x="258.1" y="569.3" font-size="9.5" text-anchor="middle" fill="#000" stroke="#000" stroke-width="0.15">0.25</text>
<text x="275.4" y="569.3" font-size="9.5" text-anchor="middle" fill="#000" stroke="#000" stroke-width="0.15">1</text>
<text x="287.1" y="569.3" font-size="9.5" text-anchor="middle" fill="#000" stroke="#000" stroke-width="0.15">4</text>
<text x="298.4" y="569.3" font-size="9.5" text-anchor="middle" fill="#000" stroke="#000" stroke-width="0.15">4</text>
<text x="299.4" y="584.2" font-size="12" text-anchor="middle" fill="#000" stroke="#000" stroke-width="0.3">+</text>
<text x="269.1" y="606.8" font-size="13.6" text-anchor="middle" fill="#000" stroke="#000" stroke-width="0.2">RS4</text>
<polygon points="311.6,560.2 359.6,546.9 372.6,546.9 372.6,560.2" fill="none" stroke="#000" stroke-width="1.2"/>
<text x="313.7" y="569.3" font-size="9.5" text-anchor="middle" fill="#000" stroke="#000" stroke-width="0.15">0</text>
<text x="330.9" y="569.3" font-size="9.5" text-anchor="middle" fill="#000" stroke="#000" stroke-width="0.15">0.25</text>
<text x="348.2" y="569.3" font-size="9.5" text-anchor="middle" fill="#000" stroke="#000" stroke-width="0.15">1</text>
<text x="359.9" y="569.3" font-size="9.5" text-anchor="middle" fill="#000" stroke="#000" stroke-width="0.15">4</text>
<text x="371.2" y="569.3" font-size="9.5" text-anchor="middle" fill="#000" stroke="#000" stroke-width="0.15">4</text>
<text x="372.2" y="584.2" font-size="12" text-anchor="middle" fill="#000" stroke="#000" stroke-width="0.3">+</text>
<text x="343" y="606.8" font-size="13.6" text-anchor="middle" fill="#000" stroke="#000" stroke-width="0.2">HS-5</text>
<polygon points="384.3,560.2 432.3,546.9 445.3,546.9 445.3,560.2" fill="none" stroke="#000" stroke-width="1.2"/>
<text x="386.4" y="569.3" font-size="9.5" text-anchor="middle" fill="#000" stroke="#000" stroke-width="0.15">0</text>
<text x="403.6" y="569.3" font-size="9.5" text-anchor="middle" fill="#000" stroke="#000" stroke-width="0.15">0.25</text>
<text x="420.9" y="569.3" font-size="9.5" text-anchor="middle" fill="#000" stroke="#000" stroke-width="0.15">1</text>
<text x="432.6" y="569.3" font-size="9.5" text-anchor="middle" fill="#000" stroke="#000" stroke-width="0.15">4</text>
<text x="443.9" y="569.3" font-size="9.5" text-anchor="middle" fill="#000" stroke="#000" stroke-width="0.15">4</text>
<text x="444.9" y="584.2" font-size="12" text-anchor="middle" fill="#000" stroke="#000" stroke-width="0.3">+</text>
<text x="415.9" y="606.8" font-size="13.6" text-anchor="middle" fill="#000" stroke="#000" stroke-width="0.2">COS7-NRP1</text>
<text x="146.6" y="553.4" font-size="13.6" text-anchor="end" fill="#000" stroke="#000" stroke-width="0.2">DiO-Ac-LDL</text>
<text x="88.2" y="567.4" font-size="13.5" text-anchor="start" fill="#000" stroke="#000" stroke-width="0.2">(µg/mL)</text>
<text x="146.6" y="584.5" font-size="13.6" text-anchor="end" fill="#000" stroke="#000" stroke-width="0.2">Ac-LDL</text>
<text x="146.6" y="606.8" font-size="13.6" text-anchor="end" fill="#000" stroke="#000" stroke-width="0.2">Cells</text>
</g>
</svg>
</body></html>
